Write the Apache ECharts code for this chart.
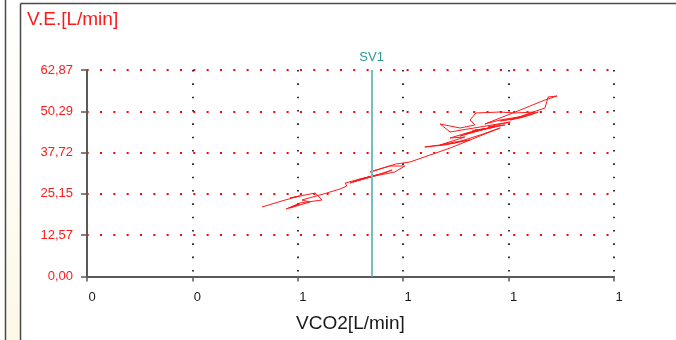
<!DOCTYPE html>
<html>
<head>
<meta charset="utf-8">
<style>
  html, body { margin: 0; padding: 0; background: #ffffff; }
  #chart { width: 676px; height: 340px; }
</style>
<script src="https://cdn.jsdelivr.net/npm/echarts@6/dist/echarts.min.js"></script>
</head>
<body>
<div id="chart"></div>
<script>
// VCO2 [L/min] samples of the exercise test
var vco2 = [
  0.532, 0.576, 0.604, 0.585, 0.633, 0.646, 0.604, 0.578, 0.604, 0.585,
  0.623, 0.608, 0.655, 0.680, 0.693, 0.690, 0.718, 0.705, 0.741,
  0.728, 0.699, 0.741, 0.709, 0.752, 0.718, 0.765, 0.779,
  0.756, 0.718, 0.746, 0.784, 0.803, 0.775, 0.737, 0.786, 0.813, 0.851,
  0.889, 0.927, 0.955, 0.984, 0.946, 0.898, 0.841, 0.879, 0.927, 0.898,
  0.870, 0.917, 0.889, 0.927, 0.965, 0.936,
  0.946, 0.908, 0.955, 0.917, 0.974, 0.931, 0.993, 0.961, 1.003,
  0.889, 0.870, 0.908, 0.936,
  0.927, 0.938, 0.984, 1.012, 1.050, 1.022, 0.984, 1.022, 1.056, 1.041,
  1.003, 1.069, 1.075, 1.092, 1.069, 1.022, 0.984, 0.955, 0.984, 1.031
];
// Ventilation V.E. [L/min] for the same samples
var ve = [
  21.16, 23.29, 24.51, 23.90, 25.42, 23.29, 22.38, 20.55, 22.07, 20.86,
  22.68, 23.29, 25.42, 26.64, 27.55, 28.47, 29.68, 28.77, 30.60,
  29.99, 28.47, 30.60, 29.08, 30.90, 29.68, 31.51, 32.42,
  31.21, 29.38, 30.60, 31.82, 33.64, 33.64, 31.82, 34.25, 34.86, 36.99,
  39.12, 41.56, 43.39, 45.21, 43.08, 40.65, 39.43, 40.04, 41.56, 40.95,
  40.04, 42.47, 42.17, 44.00, 45.21, 44.60,
  44.60, 42.78, 44.91, 43.39, 45.52, 44.30, 46.13, 45.52, 47.04,
  44.00, 46.43, 45.21, 46.13,
  47.65, 49.78, 50.08, 49.78, 50.08, 48.56, 47.34, 48.26, 50.08, 49.17,
  47.65, 51.30, 54.65, 54.95, 53.74, 50.69, 48.26, 46.43, 47.65, 48.87
];
// Axis scales
var xMin = 0.2, xMax = 1.2, xStep = 0.2;
var yMin = 0, yMax = 62.868, yStep = 12.5736;
// First ventilatory threshold
var sv1Label = 'SV1';
var sv1Vco2 = 0.745;

var points = vco2.map(function (v, i) { return [v, ve[i]]; });

var chart = echarts.init(document.getElementById('chart'), null, { renderer: 'canvas' });

var FONT = '"Liberation Sans", Arial, sans-serif';

chart.setOption({
  animation: false,
  backgroundColor: '#ffffff',
  title: {
    text: 'V.E.[L/min]',
    left: 27,
    top: 10,
    padding: 0,
    textStyle: { color: '#ff1a1a', fontSize: 19, fontWeight: 'normal', fontFamily: FONT }
  },
  graphic: [
    { type: 'rect', shape: { x: 6, y: 0, width: 14, height: 340 },
      style: { fill: new echarts.graphic.LinearGradient(0, 0, 0, 1, [
        { offset: 0, color: '#ffffff' }, { offset: 1, color: '#fdf8e8' }]) }, silent: true },
    { type: 'line', shape: { x1: 5.5, y1: 0, x2: 5.5, y2: 340 },
      style: { stroke: '#4a4a4a', lineWidth: 1.5 }, silent: true },
    { type: 'line', shape: { x1: 20.5, y1: 3.5, x2: 20.5, y2: 340 },
      style: { stroke: '#4a4a4a', lineWidth: 1.5 }, silent: true },
    { type: 'line', shape: { x1: 20.5, y1: 3.5, x2: 676, y2: 3.5 },
      style: { stroke: '#4a4a4a', lineWidth: 1.5 }, silent: true }
  ],
  grid: { left: 87, right: 62, top: 70, bottom: 63.5, containLabel: false },
  xAxis: {
    type: 'value',
    min: xMin, max: xMax, interval: xStep,
    name: 'VCO2[L/min]',
    nameLocation: 'middle',
    nameGap: 38,
    nameTextStyle: { color: '#1a1a1a', fontSize: 19, fontFamily: FONT },
    axisLine: { show: true, onZero: false, lineStyle: { color: '#5a5a5a', width: 2 } },
    axisTick: { show: true, length: 5, lineStyle: { color: '#5a5a5a', width: 1.5 } },
    axisLabel: {
      color: '#1a1a1a', fontSize: 13, fontFamily: FONT, margin: 14,
      padding: [0, 0, 0, 10],
      formatter: function (v) { return String(Math.round(v)); }
    },
    splitLine: { show: true, lineStyle: { color: '#000000', width: 1.6, type: [1.6, 11.73] } }
  },
  yAxis: {
    type: 'value',
    min: yMin, max: yMax, interval: yStep,
    axisLine: { show: true, lineStyle: { color: '#5a5a5a', width: 2 } },
    axisTick: { show: true, length: 6, lineStyle: { color: '#5a5a5a', width: 1.5 } },
    axisLabel: {
      color: '#ff1a1a', fontSize: 13, fontFamily: FONT, margin: 14,
      formatter: function (v) { return v.toFixed(2).replace('.', ','); }
    },
    splitLine: { show: true, lineStyle: { color: '#ff0000', width: 2, type: [2, 11.33], dashOffset: -13 } }
  },
  series: [{
    type: 'line',
    data: points,
    showSymbol: false,
    symbol: 'none',
    smooth: false,
    lineStyle: { color: '#ff1a1a', width: 1 },
    z: 3,
    markLine: {
      silent: true,
      symbol: ['none', 'none'],
      lineStyle: { color: '#78bebe', width: 2, type: 'solid' },
      label: {
        show: true, position: 'end', formatter: sv1Label, distance: 6,
        color: '#2f9898', fontSize: 13, fontFamily: FONT
      },
      data: [{ xAxis: sv1Vco2 }]
    }
  }]
});
</script>
</body>
</html>
